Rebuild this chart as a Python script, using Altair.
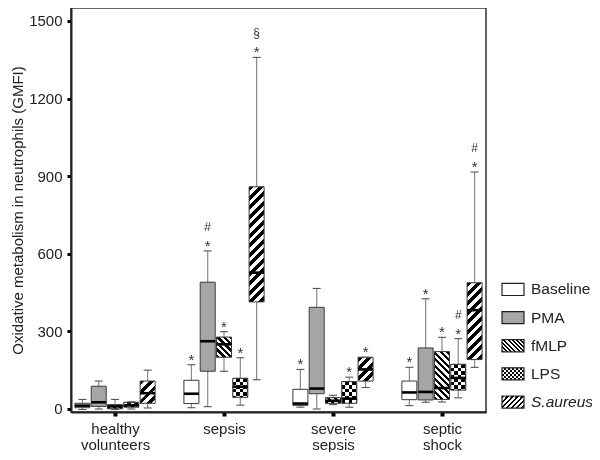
import json
import altair as alt
import pandas as pd

# ---------------- data ----------------
groups = ["healthy volunteers", "sepsis", "severe sepsis", "septic shock"]
group_lines = [["healthy", "volunteers"], ["sepsis"], ["severe", "sepsis"], ["septic", "shock"]]
stimuli = ["Baseline", "PMA", "fMLP", "LPS", "S.aureus"]

# (min, q1, median, q3, max) for each group, in group order
baseline_stats = [(-2, 5, 13, 22, 37), (5, 21, 59, 111, 171), (7, 14, 21, 76, 153), (13, 36, 64, 108, 161)]
pma_stats = [(0, 10, 26, 88, 108), (9, 146, 262, 490, 611), (0, 59, 79, 393, 466), (26, 35, 66, 236, 426)]
fmlp_stats = [(-2, 1, 10, 17, 37), (146, 200, 250, 278, 299), (17, 22, 32, 44, 53), (27, 37, 81, 222, 277)]
lps_stats = [(0, 7, 14, 26, 28), (15, 45, 86, 119, 198), (7, 22, 40, 106, 123), (43, 73, 120, 173, 272)]
saureus_stats = [(4, 22, 61, 108, 150), (113, 414, 527, 859, 1359), (83, 108, 153, 200, 200), (161, 191, 382, 488, 916)]

# significance marks (first line just above whisker, second line above it)
baseline_sig = [("", ""), ("*", ""), ("*", ""), ("*", "")]
pma_sig = [("", ""), ("*", "#"), ("", ""), ("*", "")]
fmlp_sig = [("", ""), ("*", ""), ("", ""), ("*", "")]
lps_sig = [("", ""), ("*", ""), ("*", ""), ("*", "#")]
saureus_sig = [("", ""), ("*", "§"), ("*", ""), ("*", "#")]

y_ticks = [0, 300, 600, 900, 1200, 1500]
y_title = "Oxidative metabolism in neutrophils (GMFI)"

stats = [baseline_stats, pma_stats, fmlp_stats, lps_stats, saureus_stats]
sigs = [baseline_sig, pma_sig, fmlp_sig, lps_sig, saureus_sig]

# ---------------- layout ----------------
W, H = 415, 404
X_DOM = [-0.404, 3.404]
Y_DOM = [-11.6, 1550]
px_x = W / (X_DOM[1] - X_DOM[0])
px_y = H / (Y_DOM[1] - Y_DOM[0])
slot = 16.3 / px_x
half = 7.5 / px_x
cap = 4.0 / px_x

rows = []
for si, s in enumerate(stimuli):
    for gi, g in enumerate(groups):
        mn, q1, md, q3, mx = stats[si][gi]
        xc = gi + (si - 2) * slot
        rows.append(dict(group=g, stim=s, key=f"{gi}-{si}", xc=xc, xl=xc - half, xr=xc + half,
                         cl=xc - cap, cr=xc + cap, mn=mn, q1=q1, md=md, q3=q3, mx=mx,
                         sig1=sigs[si][gi][0], sig2=sigs[si][gi][1]))
df = pd.DataFrame(rows)


def stripes(w, h, period, direction, frac=0.5, fg="black", bg="white"):
    L = w + h
    stops = []
    k = 0
    while k * period < L:
        a = min(k * period / L, 1)
        b = min((k * period + frac * period) / L, 1)
        c = min((k + 1) * period / L, 1)
        stops += [(a, fg), (b, fg), (b, bg), (c, bg)]
        k += 1
    c_ = L / (w * w + h * h)
    if direction == "/":
        x1, y1, x2, y2 = 0, 0, c_ * w, c_ * h
    else:
        x1, y1, x2, y2 = 0, 1, c_ * w, 1 - c_ * h
    return alt.LinearGradient(gradient="linear", x1=x1, y1=y1, x2=x2, y2=y2,
                              stops=[alt.GradientStop(offset=o, color=col) for o, col in stops])


def bands(length, period, vertical, fg, bg):
    stops = []
    k = 0
    while k * period < length:
        a = min(k * period / length, 1)
        b = min((k + 0.5) * period / length, 1)
        c = min((k + 1) * period / length, 1)
        stops += [(a, fg), (b, fg), (b, bg), (c, bg)]
        k += 1
    if vertical:  # horizontal bands stacked along y
        x1, y1, x2, y2 = 0, 0, 0, 1
    else:
        x1, y1, x2, y2 = 0, 0, 1, 0
    return alt.LinearGradient(gradient="linear", x1=x1, y1=y1, x2=x2, y2=y2,
                              stops=[alt.GradientStop(offset=o, color=col) for o, col in stops])


base = alt.Chart(df)
xs = alt.X("xc:Q", scale=alt.Scale(domain=X_DOM, nice=False, zero=False),
           axis=alt.Axis(values=list(range(len(groups))), title=None, grid=False,
                         labelExpr=" : ".join(
                             [f"datum.value == {i} ? {json.dumps(l)}" for i, l in enumerate(group_lines)]) + " : ''",
                         labelFontSize=15, labelLineHeight=16, labelPadding=5, labelColor="#222",
                         tickSize=4, tickWidth=4, tickColor="black",
                         domainColor="#222", domainWidth=2, labelFont="Liberation Sans"))
ys = alt.Y("mn:Q", scale=alt.Scale(domain=Y_DOM, nice=False, zero=False),
           axis=alt.Axis(values=y_ticks, format="d", title=y_title, grid=False, labelFontSize=15,
                         labelColor="#222", labelPadding=5, tickSize=4, tickWidth=3, tickColor="black",
                         domainColor="#222", domainWidth=2, titleFontSize=15, titleFontWeight="normal",
                         titleColor="#222", titlePadding=3, labelFont="Liberation Sans",
                         titleFont="Liberation Sans"))

layers = []
# whiskers
layers.append(base.mark_rule(color="#8a8a8a", strokeWidth=1.2).encode(x=xs, y=ys, y2="mx:Q"))
# plain boxes
layers.append(base.mark_rect().encode(
    x=alt.X("xl:Q"), x2="xr:Q", y=alt.Y("q1:Q"), y2="q3:Q",
    fill=alt.condition(alt.datum.stim == "PMA", alt.value("#a6a6a6"), alt.value("white"))
).transform_filter(alt.FieldOneOfPredicate(field="stim", oneOf=["Baseline", "PMA"])))

# patterned boxes
for r in rows:
    w = (r["xr"] - r["xl"]) * px_x
    h = max((r["q3"] - r["q1"]) * px_y, 1)
    enc = dict(x=alt.X("xl:Q"), x2="xr:Q", y=alt.Y("q1:Q"), y2="q3:Q")
    flt = alt.datum.key == r["key"]
    if r["stim"] == "fMLP":
        layers.append(base.mark_rect(fill=stripes(w, h, 6.5, "\\")).encode(**enc).transform_filter(flt))
    elif r["stim"] == "S.aureus":
        layers.append(base.mark_rect(fill=stripes(w, h, 9.5, "/")).encode(**enc).transform_filter(flt))
    elif r["stim"] == "LPS":
        layers.append(base.mark_rect(fill=bands(h, 7, True, "black", "white")).encode(**enc).transform_filter(flt))
        layers.append(base.mark_rect(fill=bands(w, 7, False, "white", "black"), blend="difference")
                      .encode(**enc).transform_filter(flt))

# box outlines
layers.append(base.mark_rect(fillOpacity=0, stroke="#3a3a3a", strokeWidth=1).encode(
    x=alt.X("xl:Q"), x2="xr:Q", y=alt.Y("q1:Q"), y2="q3:Q"))
# medians
layers.append(base.mark_rule(color="black", strokeWidth=2.6).encode(x=alt.X("xl:Q"), x2="xr:Q", y=alt.Y("md:Q")))
# caps
layers.append(base.mark_rule(color="#555", strokeWidth=1.1).encode(x=alt.X("cl:Q"), x2="cr:Q", y=alt.Y("mn:Q")))
layers.append(base.mark_rule(color="#555", strokeWidth=1.1).encode(x=alt.X("cl:Q"), x2="cr:Q", y=alt.Y("mx:Q")))
# significance marks
layers.append(base.mark_text(fontSize=15, color="#333", baseline="alphabetic", dy=0,
                             font="Liberation Sans").encode(
    x=alt.X("xc:Q"), y=alt.Y("mx:Q"), text="sig1:N").transform_filter(alt.datum.sig1 != ""))
layers.append(base.mark_text(fontSize=12, color="#333", baseline="alphabetic", dy=-20,
                             font="Liberation Sans").encode(
    x=alt.X("xc:Q"), y=alt.Y("mx:Q"), text="sig2:N").transform_filter(alt.datum.sig2 != ""))

main = alt.layer(*layers)

# ---------------- legend ----------------
leg_df = pd.DataFrame({"stim": stimuli})
lbase = alt.Chart(leg_df)
ly = alt.Y("stim:N", scale=alt.Scale(domain=stimuli, range=[267.4, 408.1], paddingInner=0.57,
                                      paddingOuter=0.285), axis=None)
LX0, LX1 = 431, 453
sw_w, sw_h = LX1 - LX0, 12
leg_layers = []
leg_fills = {
    "Baseline": "white",
    "PMA": "#a6a6a6",
    "fMLP": stripes(sw_w, sw_h, 4.2, "\\"),
    "S.aureus": stripes(sw_w, sw_h, 5.0, "/"),
}
for s in stimuli:
    f = alt.datum.stim == s
    if s == "LPS":
        leg_layers.append(lbase.mark_rect(fill=bands(sw_h, 4, True, "black", "white")).encode(
            x=alt.value(LX0), x2=alt.value(LX1), y=ly).transform_filter(f))
        leg_layers.append(lbase.mark_rect(fill=bands(sw_w, 4, False, "white", "black"), blend="difference").encode(
            x=alt.value(LX0), x2=alt.value(LX1), y=ly).transform_filter(f))
    else:
        leg_layers.append(lbase.mark_rect(fill=leg_fills[s]).encode(
            x=alt.value(LX0), x2=alt.value(LX1), y=ly).transform_filter(f))
leg_layers.append(lbase.mark_rect(fillOpacity=0, stroke="#222", strokeWidth=1.2).encode(
    x=alt.value(LX0), x2=alt.value(LX1), y=ly))
leg_layers.append(lbase.mark_text(align="left", baseline="middle", fontSize=15.5, color="#222",
                                  font="Liberation Sans").encode(
    x=alt.value(LX1 + 7), y=ly, text="stim:N").transform_filter(alt.datum.stim != "S.aureus"))
leg_layers.append(lbase.mark_text(align="left", baseline="middle", fontSize=15.5, color="#222",
                                  fontStyle="italic", font="Liberation Sans").encode(
    x=alt.value(LX1 + 7), y=ly, text="stim:N").transform_filter(alt.datum.stim == "S.aureus"))
legend = alt.layer(*leg_layers)

chart = alt.layer(main, legend).resolve_scale(y="independent").properties(
    width=W, height=H,
    autosize=alt.AutoSizeParams(type="none"),
    padding={"left": 63, "top": 0, "right": 106, "bottom": 40},
).configure_view(stroke="#333", strokeWidth=1.5)

chart.save("out.html", embed_options={"renderer": "svg", "actions": False})
